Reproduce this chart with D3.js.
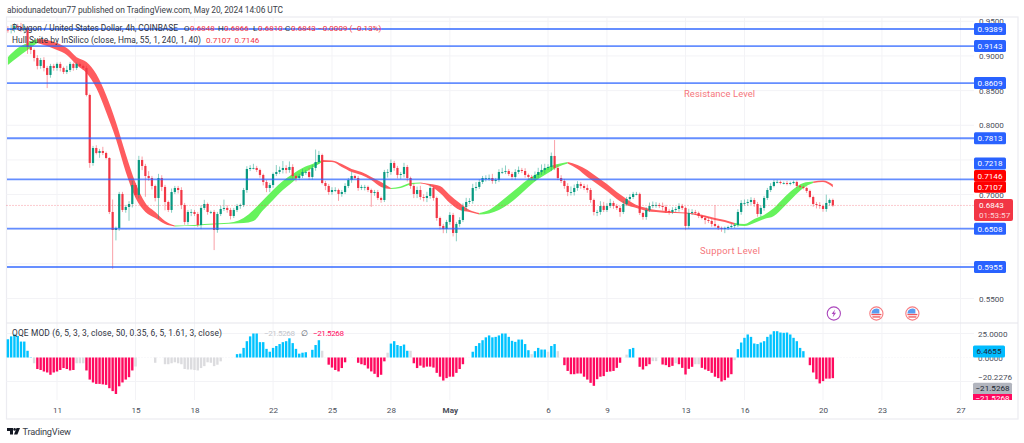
<!DOCTYPE html>
<html><head><meta charset="utf-8">
<script src="https://cdnjs.cloudflare.com/ajax/libs/d3/7.8.5/d3.min.js"></script>
<style>html,body{margin:0;padding:0;background:#fff}svg{display:block;font-family:Roboto,"Liberation Sans",sans-serif}</style>
</head><body><svg id="c" width="1024" height="443"></svg>
<script>
// ---- data ----
const closes = [
.9375,.9390,.9433,
.9418,.9375,.9404,.9130,.9086,.8971,
.8856,.8942,.8827,.8726,.8856,.8827,
.8885,.8827,.8769,.8798,.8885,.8827,
.8885,.8856,.8827,.8437,.7456,.7672,
.7600,.7629,.7600,.7528,.6749,.6489,
.6518,.7009,.6778,.6821,.6864,.7138,
.6994,.7499,.7413,.7268,.7239,.7124,
.6951,.7239,.7110,.6893,.6778,.7037,
.7095,.7066,.6850,.6605,.6749,.6749,
.6720,.6561,.6807,.6864,.6749,.6749,
.6489,.6720,.6792,.6807,.6778,.6691,
.6778,.6835,.6850,.7066,.7369,.7384,
.7384,.7355,.7283,.7182,.7095,.7138,
.7297,.7326,.7355,.7384,.7355,.7398,
.7268,.7239,.7268,.7326,.7326,.7254,
.7384,.7470,.7571,.7167,.7124,.7037,
.7066,.7066,.7009,.7037,.7124,.7210,
.7268,.7239,.7095,.7110,.7110,.7066,
.7023,.7037,.6951,.6922,.7326,.7326,
.7456,.7384,.7283,.7297,.7398,.7239,
.7124,.7009,.7066,.6965,.6951,.6980,
.7095,.6951,.6662,.6547,.6503,.6605,
.6706,.6446,.6576,.6633,.6821,.6893,
.6908,.7095,.7110,.7182,.7239,.7239,
.7239,.7196,.7210,.7326,.7326,.7340,
.7297,.7254,.7326,.7355,.7340,.7283,
.7254,.7239,.7283,.7326,.7355,.7384,
.7398,.7557,.7384,.7239,.7196,.7124,
.7037,.7037,.7095,.7153,.7124,.7095,
.7066,.6922,.6749,.6749,.6835,.6778,
.6835,.6879,.6835,.6807,.6749,.6864,
.6936,.6965,.7009,.7009,.6735,.6677,
.6778,.6835,.6850,.6850,.6835,.6821,
.6764,.6749,.6778,.6792,.6835,.6807,
.6547,.6735,.6749,.6735,.6691,.6662,
.6633,.6619,.6576,.6547,.6518,.6503,
.6518,.6532,.6547,.6561,.6749,.6879,
.6879,.6893,.6922,.6864,.6720,.6807,
.6951,.7066,.7124,.7182,.7182,.7167,
.7167,.7153,.7167,.7182,.7124,.7110,
.7095,.7052,.6965,.6864,.6850,.6835,
.6792,.6879,.6922,.6843];
const upperWicks = [
.005,.006,.004,
.003,.006,.005,.002,.003,.002,
.004,.003,.004,.003,.003,.003,
.002,.003,.002,.006,.003,.002,
.002,.002,.002,.003,.002,.003,
.004,.003,.006,.002,.001,.018,
.002,.003,.003,.003,.004,.006,
.003,.006,.005,.003,.007,.003,
.002,.006,.004,.003,.002,.005,
.003,.003,.004,.003,.003,.004,
.003,.003,.004,.006,.002,.002,
.003,.003,.005,.012,.004,.003,
.003,.003,.002,.003,.004,.004,
.006,.003,.002,.002,.003,.003,
.002,.010,.005,.010,.004,.008,
.004,.002,.003,.004,.003,.006,
.004,.018,.006,.002,.003,.003,
.004,.004,.002,.003,.004,.003,
.006,.002,.003,.003,.003,.002,
.002,.003,.003,.002,.003,.004,
.005,.003,.003,.003,.006,.003,
.002,.003,.005,.006,.004,.006,
.005,.003,.002,.002,.003,.003,
.004,.003,.003,.004,.005,.006,
.004,.006,.007,.004,.003,.004,
.005,.006,.003,.004,.006,.008,
.003,.003,.004,.005,.003,.004,
.002,.003,.005,.006,.008,.006,
.004,.005,.023,.004,.004,.003,
.004,.008,.005,.004,.003,.003,
.005,.003,.002,.003,.007,.006,
.004,.006,.003,.003,.003,.004,
.003,.004,.003,.003,.002,.002,
.004,.005,.005,.004,.003,.005,
.003,.003,.004,.003,.004,.003,
.002,.006,.004,.003,.002,.002,
.003,.004,.003,.027,.002,.002,
.002,.002,.003,.003,.004,.004,
.005,.004,.004,.003,.003,.004,
.003,.003,.004,.003,.003,.002,
.002,.003,.002,.002,.002,.002,
.002,.002,.002,.002,.003,.004,
.002,.012,.002,.002];
const lowerWicks = [
.004,.005,.005,
.003,.003,.005,.010,.006,.005,
.005,.004,.005,.019,.004,.004,
.004,.005,.003,.003,.003,.004,
.003,.002,.003,.002,.007,.004,
.002,.007,.003,.002,.003,.056,
.015,.004,.003,.004,.020,.005,
.003,.005,.006,.030,.004,.005,
.005,.030,.006,.012,.003,.004,
.003,.005,.006,.004,.004,.006,
.003,.003,.006,.003,.004,.003,
.029,.004,.003,.003,.004,.005,
.003,.003,.004,.003,.004,.003,
.002,.003,.004,.005,.006,.006,
.004,.003,.003,.005,.005,.004,
.004,.005,.003,.003,.004,.004,
.004,.004,.003,.002,.006,.004,
.004,.003,.010,.004,.003,.003,
.004,.002,.004,.003,.005,.003,
.020,.004,.003,.004,.003,.008,
.004,.004,.005,.006,.005,.005,
.004,.006,.006,.004,.005,.006,
.004,.004,.004,.005,.006,.006,
.004,.005,.012,.004,.003,.005,
.003,.004,.004,.003,.003,.005,
.004,.004,.004,.003,.003,.003,
.003,.004,.004,.003,.003,.004,
.003,.003,.004,.004,.004,.005,
.003,.006,.003,.003,.003,.004,
.006,.005,.005,.004,.004,.003,
.004,.004,.005,.006,.004,.003,
.003,.003,.004,.003,.007,.003,
.003,.003,.003,.002,.003,.004,
.004,.003,.003,.004,.003,.005,
.003,.004,.003,.003,.004,.003,
.006,.004,.003,.003,.003,.002,
.006,.003,.004,.002,.003,.004,
.006,.003,.002,.003,.003,.004,
.004,.004,.004,.004,.004,.004,
.004,.003,.003,.002,.002,.002,
.002,.002,.002,.002,.003,.002,
.002,.003,.002,.004,.005,.004,
.004,.004,.004,.002];
const firstOpen = .9380;

// Hull band, one sample every 12 hours
const hullUpper = [.8983,.9115,.9188,.9245,.9231,.9188,.9115,.8983,.8913,.8740,.8437,.8048,.7586,.7167,.6879,.6749,.6619,.6554,.6554,.6561,.6576,.6583,.6590,.6605,.6662,.6778,.6922,.7066,.7196,.7297,.7384,.7441,.7499,.7492,.7441,.7369,.7326,.7254,.7182,.7095,.7117,.7167,.7175,.7153,.7124,.6995,.6879,.6778,.6735,.6778,.6879,.6995,.7110,.7225,.7312,.7399,.7441,.7470,.7427,.7355,.7254,.7153,.7038,.6937,.6850,.6807,.6778,.6764,.6749,.6742,.6727,.6698,.6662,.6633,.6590,.6576,.6648,.6706,.6807,.6951,.7081,.7168,.7189,.7203,.7146];
const hullLower = [.8870,.8983,.9086,.9188,.9144,.9086,.9014,.8870,.8755,.8538,.8192,.7802,.7326,.6951,.6749,.6662,.6576,.6540,.6547,.6547,.6561,.6568,.6576,.6583,.6590,.6619,.6778,.6922,.7066,.7182,.7297,.7384,.7470,.7470,.7398,.7326,.7283,.7210,.7110,.7081,.7095,.7146,.7160,.7124,.7023,.6878,.6777,.6749,.6713,.6727,.6777,.6864,.6979,.7109,.7224,.7311,.7398,.7449,.7369,.7253,.7152,.7051,.6936,.6849,.6807,.6764,.6749,.6735,.6735,.6727,.6706,.6669,.6633,.6605,.6561,.6547,.6590,.6648,.6691,.6820,.6965,.7095,.7167,.7182,.7107];
const hullRising = "uuurrrrrrrrrrrrrruuuuuuuuuuuuuuurrrrrrruuurrrrrruuuuuuuuurrrrrrrrrrrrrrrrruuuuuuuurr";

// QQE MOD histogram, one value per candle
const qqeValues = [
19,22,24,22.5,16.6,16.6,7,.3,-6,-12,-13,-14.6,-15.6,-18,-15.6,-14.6,-13,-11,-12,-13.5,-13,-6,-6,-6,
-13.5,-23,-26,-27.5,-27.5,-28,-28.5,-32,-35,-38,-30,-26,-23,-20.5,-13.5,-9.4,0,0,0,0,0,-5.5,0,0,
-7,-7,-6,-5,-6,-7,-12,-12.5,-12.5,-13,-13.5,-11,-9,-5,-5.5,-9,-7.5,-4,0,0,0,0,
3.5,4,10,17,22,25,25,16,16,9,6,10,12,14,16,17,20,15,9,4,5,5.5,0,8,13,18,7,0,
-7.5,-10.5,-13,-14.5,-11,-5,0,0,0,-5.5,-7,-8,-11.5,-14.5,-17,-20.5,-18,-4,5,14.5,17,13,12,13.5,7,7,
-6,-11,-8.5,-10.5,-9.5,-9.5,-10.5,-16,-20,-24,-21.5,-20,-20,-16,-12,-7,0,0,
6,12,15,18,21,23,21,21.5,23,25,25,21.5,17.4,16.3,18.7,18.7,14,7.6,3.5,6.6,10,8.3,8.3,6,12,14,6.6,0,
-8,-14,-17.4,-17.4,-16.7,-16.7,-20,-23,-26.4,-29.5,-22.6,-20,-19.4,-15,-14.6,-14,-10.8,-5.5,0,3,8.7,10,0,
-9.7,-12.5,-9,-7,-3.8,-3.8,0,-7.3,-8,-10,-8.7,-6,-7,-10.8,-17.7,-11.8,-9.7,-7,-7,
-10.8,-12.5,-14,-16,-20,-21.5,-25,-23.6,-21,-17.4,-2.8,8.7,15.6,20.5,24,21.5,14.6,14,15.6,17,21.5,24,27.4,27.4,26,25.7,26,24,20.5,17,10,6.6,0,
-8,-15.6,-22.6,-27,-24.6,-22,-22,-21.53];
const qqeGrey = [8,21,22,23,39,45,48,49,50,51,52,53,54,55,56,57,58,59,60,61,62,63,64,65,96,116,123,160,165,168,189,197,198,204,210,211,222];

const levels = [.9389,.9143,.8609,.7813,.7218,.6508,.5955];
const levelTexts = ["0.9389","0.9143","0.8609","0.7813","0.7218","0.6508","0.5955"];
const priceTicks = [.95,.9,.85,.8,.75,.7,.65,.6,.55];
const qqeTicks = [25,0,-20.2276];
const dateTicks = ["2024-04-11","2024-04-15","2024-04-18","2024-04-22","2024-04-25","2024-04-28","2024-05-01","2024-05-06","2024-05-09","2024-05-13","2024-05-16","2024-05-20","2024-05-23","2024-05-27"];
const dateLabels = ["11","15","18","22","25","28","May","6","9","13","16","20","23","27"];
const eventDates = ["2024-05-20T12:00Z","2024-05-22T16:00Z","2024-05-24T12:00Z"];
const eventKinds = ["bolt","us","us"];
const lastPrice = .6843;

// ---- layout ----
const svg = d3.select("#c");
const W = {l:6.5,r:1018,t:17,b:419,axis:974,pane:323,qb:400};
const start = Date.UTC(2024,3,8,12), H4 = 4*3600e3;
const x = d3.scaleUtc().domain([new Date("2024-04-11"),new Date("2024-05-27")]).range([57,960.5]);
const y = d3.scaleLinear().domain([.5955,.9389]).range([267,29]);
const qy = d3.scaleLinear().domain([-25,25]).range([381.5,333.5]);
const tDates = dateTicks.map(d=>new Date(d));
const grid = "#f3f3f6", ink = "#4a4e59", FS = 8.1;

// frame
svg.append("rect").attr("x",W.l).attr("y",W.t).attr("width",W.r-W.l).attr("height",W.b-W.t).attr("fill","#fff").attr("stroke","#ececf1").attr("stroke-width",1.2);

// gridlines
const g = svg.append("g");
g.selectAll(".v").data(tDates).join("line").attr("x1",d=>x(d)).attr("x2",d=>x(d)).attr("y1",W.t).attr("y2",W.qb).attr("stroke",grid);
g.selectAll(".h").data(priceTicks).join("line").attr("x1",W.l).attr("x2",W.axis).attr("y1",d=>y(d)).attr("y2",d=>y(d)).attr("stroke",grid);
g.selectAll(".q").data([25,-25]).join("line").attr("x1",W.l).attr("x2",W.axis).attr("y1",d=>qy(d)).attr("y2",d=>qy(d)).attr("stroke",grid);
svg.append("line").attr("x1",W.l).attr("x2",W.r).attr("y1",W.pane).attr("y2",W.pane).attr("stroke","#e6e6ec").attr("stroke-width",1.2);
svg.append("line").attr("x1",W.l).attr("x2",W.axis).attr("y1",qy(0)).attr("y2",qy(0)).attr("stroke","#f3f3f6").attr("stroke-dasharray","1 2");

// hull band
const hullT = hullUpper.map((_,k)=>new Date(start+k*3*H4));
const area = d3.area().x(k=>x(hullT[k])).y0(k=>y(hullLower[k])).y1(k=>y(hullUpper[k])).curve(d3.curveMonotoneX);
let runs=[],cur=null;
for(let k=0;k<hullUpper.length-1;k++){
  const c=hullRising[k];
  if(!cur||cur.c!==c){cur={c,idx:[k]};runs.push(cur);}
  cur.idx.push(k+1);
}
svg.append("g").selectAll("path").data(runs).join("path").attr("d",r=>area(r.idx)).attr("fill",r=>r.c==="u"?"#66f35c":"#ff5c5f");

// candles
const opens = closes.map((c,i)=>i?closes[i-1]:firstOpen);
const candles = closes.map((c,i)=>({t:new Date(start+i*H4),o:opens[i],c,h:Math.max(opens[i],c)+upperWicks[i],l:Math.min(opens[i],c)-lowerWicks[i]}));
const up="#089981",dn="#f23645";
const cg=svg.append("g");
cg.selectAll("line").data(candles).join("line").attr("x1",d=>x(d.t)).attr("x2",d=>x(d.t)).attr("y1",d=>y(d.h)).attr("y2",d=>y(d.l)).attr("stroke",d=>d.c>=d.o?up:dn).attr("stroke-width",.8).attr("stroke-opacity",.6);
cg.selectAll("rect").data(candles).join("rect").attr("x",d=>x(d.t)-1.1).attr("width",2.2).attr("y",d=>y(Math.max(d.o,d.c))).attr("height",d=>Math.max(.8,Math.abs(y(d.o)-y(d.c)))).attr("fill",d=>d.c>=d.o?up:dn);

// last price dotted line
svg.append("line").attr("x1",W.l).attr("x2",W.axis).attr("y1",y(lastPrice)).attr("y2",y(lastPrice)).attr("stroke",dn).attr("stroke-opacity",.5).attr("stroke-dasharray","1 2");

// horizontal levels
svg.append("g").selectAll("line").data(levels).join("line").attr("x1",W.l+.5).attr("x2",W.axis).attr("y1",d=>y(d)).attr("y2",d=>y(d)).attr("stroke","#2962ff").attr("stroke-opacity",(d,i)=>i===6?.95:.72).attr("stroke-width",(d,i)=>i===6?1.4:1.8);

// annotations
const note=(t,xp,yp,w)=>svg.append("text").attr("x",xp).attr("y",yp).attr("font-size",9.4).attr("fill","#f5767c").attr("textLength",w).attr("lengthAdjust","spacing").text(t);
note("Resistance Level",684,97,71);
note("Support Level",700,254,60);

// QQE histogram
const greySet=new Set(qqeGrey);
svg.append("g").selectAll("rect").data(qqeValues.map((v,i)=>({v,i,t:new Date(start+i*H4)})).filter(d=>d.v!==0)).join("rect")
 .attr("x",d=>x(d.t)-1.2).attr("width",2.4).attr("y",d=>Math.min(qy(d.v),qy(0))).attr("height",d=>Math.abs(qy(d.v)-qy(0)))
 .attr("fill",d=>greySet.has(d.i)?"#dcdcdf":d.v>0?"#00c3ff":"#ff0a5f");

// axes
const ax=(sel)=>{sel.select(".domain").remove();sel.selectAll(".tick line").remove();sel.selectAll("text").attr("fill",ink).attr("font-family","Roboto,sans-serif");};
svg.append("g").attr("transform",`translate(0,${W.qb})`).call(d3.axisBottom(x).tickValues(tDates).tickSize(0).tickPadding(0).tickFormat((d,i)=>dateLabels[i]))
 .call(ax).selectAll("text").attr("y",10).attr("font-size",FS).attr("font-weight",(d,i)=>dateLabels[i]==="May"?700:400);
svg.append("g").attr("transform",`translate(979,0)`).call(d3.axisRight(y).tickValues(priceTicks).tickSize(0).tickPadding(0).tickFormat(d3.format(".4f")))
 .call(ax).selectAll("text").attr("font-size",FS);
svg.append("g").attr("transform",`translate(978,0)`).call(d3.axisRight(qy).tickValues(qqeTicks).tickSize(0).tickPadding(0).tickFormat(d=>d3.format(".4f")(d).replace("-","−")))
 .call(ax).selectAll("text").attr("font-size",FS);
svg.selectAll(".tick text").attr("dy","0.33em");

// axis labels
function tag(yc,txt,bg,w,h,fg,xx){
  const gg=svg.append("g");
  gg.append("rect").attr("x",xx||974).attr("y",yc-h/2).attr("width",w).attr("height",h).attr("rx",1.5).attr("fill",bg);
  gg.append("text").attr("x",(xx||974)+w/2).attr("y",yc+2.9).attr("text-anchor","middle").attr("font-size",FS).attr("fill",fg||"#fff").text(txt);
}
const labelY=[29,46,83,138,163.5,228,267];
levels.forEach((l,i)=>tag(i===4?labelY[4]:y(l),levelTexts[i],"#2962ff",32,12,"#fff"));
tag(175.7,"0.7146","#ff0000",32,11.5);
tag(187,"0.7107","#ff0000",32,11.5);
svg.append("rect").attr("x",974).attr("y",199).attr("width",39).attr("height",22).attr("rx",2).attr("fill","#f23645");
svg.append("text").attr("x",979).attr("y",208).attr("font-size",FS).attr("fill","#fff").text("0.6843");
svg.append("text").attr("x",979).attr("y",218).attr("font-size",FS).attr("fill","#fff").attr("fill-opacity",.8).text("01:53:57");
tag(351.5,"6.4655","#00bcff",32,12,"#202530",973);
tag(388.5,"−21.5268","#b2b5be",39,11.5,"#202530",973);
svg.append("rect").attr("x",973).attr("y",394).attr("width",39).attr("height",6).attr("fill","#ff0a5f");
svg.append("clipPath").attr("id","cl").append("rect").attr("x",973).attr("y",394).attr("width",39).attr("height",6);
svg.append("text").attr("x",992.5).attr("y",400.5).attr("text-anchor","middle").attr("font-size",FS).attr("fill","#fff").attr("clip-path","url(#cl)").text("−21.5268");

// event icons
const ev=svg.append("g").selectAll("g").data(eventDates.map((d,i)=>({t:new Date(d),k:eventKinds[i]}))).join("g").attr("transform",d=>`translate(${x(d.t)+1},313.5)`);
ev.append("circle").attr("r",6.6).attr("fill","#fff").attr("stroke",d=>d.k==="bolt"?"#ab47bc":"#f77c80").attr("stroke-width",1.1);
ev.filter(d=>d.k==="bolt").append("path").attr("d","M1.2,-4 L-2.2,.6 L-.2,.6 L-1.2,4 L2.2,-.8 L.2,-.8 Z").attr("fill","#ab47bc");
const us=ev.filter(d=>d.k==="us");
us.append("circle").attr("r",5).attr("fill","#fff");
us.append("path").attr("d","M-5,0 A5,5 0 0 1 3,-4 L3,0 Z").attr("fill","#5b9cf0");
us.append("rect").attr("x",-5).attr("y",0.4).attr("width",10).attr("height",1.3).attr("fill","#f0555a");
us.append("rect").attr("x",-4).attr("y",2.8).attr("width",8).attr("height",1.3).attr("fill","#f0555a");

// legends
const txt=(t,xp,yp,col,w,s)=>{const e=svg.append("text").attr("x",xp).attr("y",yp).attr("font-size",s||FS).attr("fill",col).text(t);if(w)e.attr("textLength",w).attr("lengthAdjust","spacing");return e;};
const dark="#2f333e",rd="#f23645";
txt("abiodunadetoun77 published on TradingView.com, May 20, 2024 14:06 UTC",7,13,"#3a3e49",276,8.4);
txt("Polygon / United States Dollar, 4h, COINBASE",12,31,dark,166,8.4);
[["O",184],["H",218],["L",253],["C",285]].forEach(a=>txt(a[0],a[1],31,dark));
[["0.6848",190],["0.6866",224],["0.6810",258],["0.6843",291],["−0.0009 (−0.13%)",318]].forEach(a=>txt(a[0],a[1],31,rd));
txt("Hull Suite by InSilico (close, Hma, 55, 1, 240, 1, 40)",12,43,dark,189,8.4);
txt("0.7107",206,43,rd);txt("0.7146",234.5,43,rd);
txt("QQE MOD (6, 5, 3, 3, close, 50, 0.35, 6, 5, 1.61, 3, close)",12,336,dark,210,8.4);
txt("−21.5268",264,336,"#c4c6cc",31);txt("∅",301,336,"#555a66");txt("−21.5268",313,336,"#ff0a5f",31);

// logo
const logo=svg.append("g").attr("fill","#131722");
logo.append("path").attr("d","M7,428 H13 V434.5 H10 V431 H7 Z");
logo.append("circle").attr("cx",14.6).attr("cy",429.4).attr("r",1.3);
logo.append("path").attr("d","M16.5,428 H20 L17.4,434.5 H14 Z");
txt("TradingView",22.5,434.5,"#3a3e49",48.5,9.2);
</script></body></html>
